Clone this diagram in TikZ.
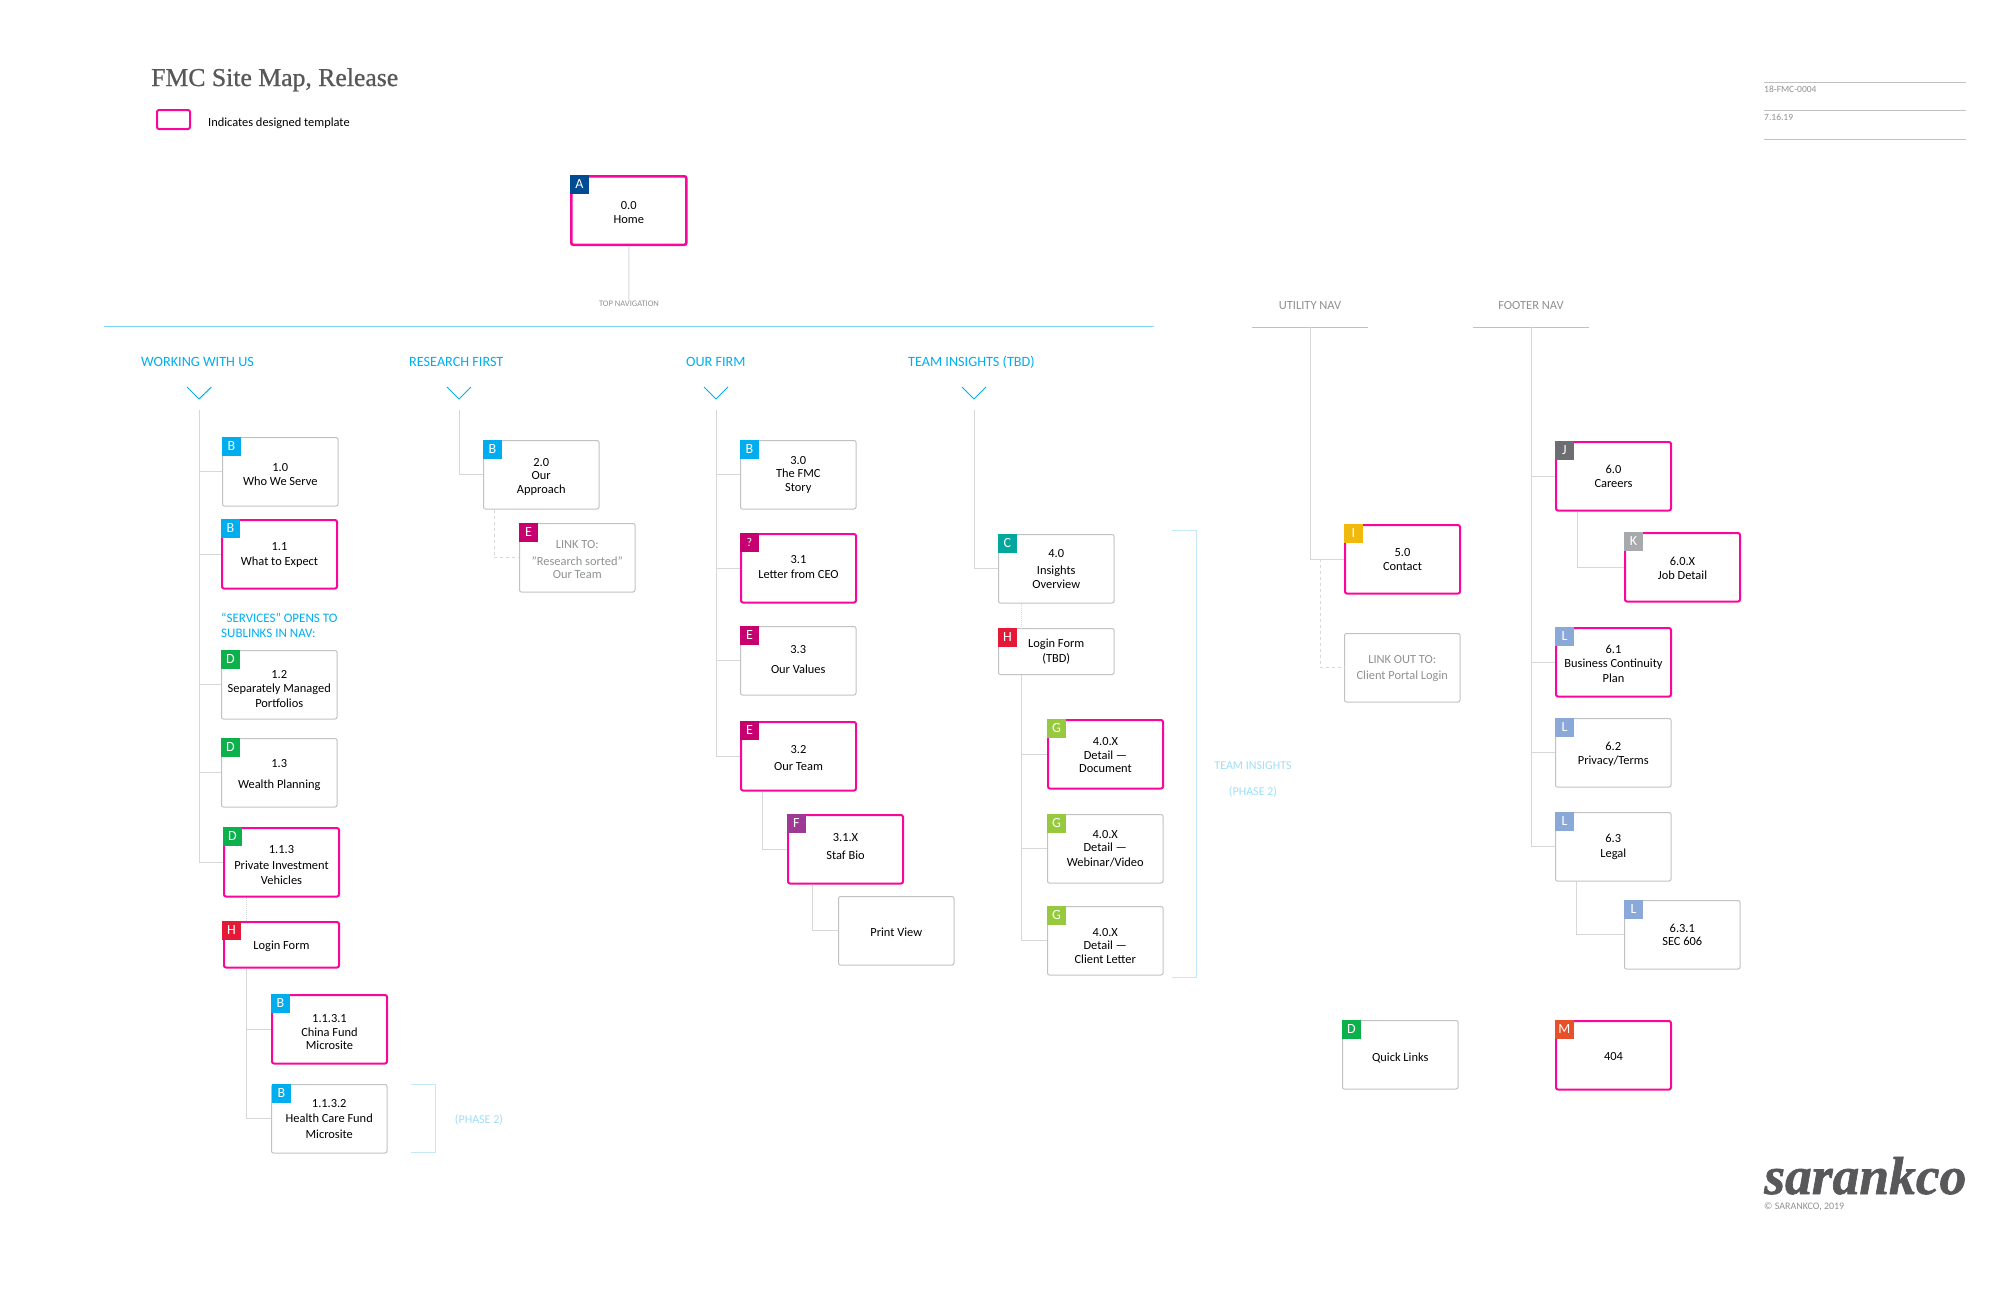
\documentclass[tikz,border=0pt]{standalone}
\usepackage{fontspec}
\setmainfont{Carlito}
\newfontfamily\titlefont[FakeBold=0.8]{Liberation Serif}
\newfontfamily\logofont[FakeBold=1.2]{Liberation Serif}
\usetikzlibrary{positioning}
\newcommand{\dropby}[1]{\rule{0pt}{\dimexpr 8pt+#1pt\relax}}
\newcommand{\liftby}[1]{\rule[-#1pt]{0pt}{0pt}}

\definecolor{cyanhead}{HTML}{00AEEF}
\definecolor{cyanline}{HTML}{7FD6F6}
\definecolor{cyanpale}{HTML}{C4EAFA}
\definecolor{cyantext}{HTML}{9FDDF8}
\definecolor{boxgrey}{HTML}{BFC1C3}
\definecolor{linkgrey}{HTML}{D5D7D8}
\definecolor{textgrey}{HTML}{8E9092}
\definecolor{tplpink}{HTML}{F9079A}
\definecolor{logogrey}{HTML}{58585B}
\definecolor{tagA}{HTML}{004B91}
\definecolor{tagB}{HTML}{00AEEF}
\definecolor{tagC}{HTML}{00A79D}
\definecolor{tagD}{HTML}{0DB14B}
\definecolor{tagE}{HTML}{C6006F}
\definecolor{tagF}{HTML}{9E3A96}
\definecolor{tagG}{HTML}{96C93D}
\definecolor{tagH}{HTML}{E31937}
\definecolor{tagI}{HTML}{F0B90B}
\definecolor{tagJ}{HTML}{6D6E71}
\definecolor{tagK}{HTML}{A7A9AC}
\definecolor{tagL}{HTML}{8AA8D8}
\definecolor{tagM}{HTML}{E8502A}

\tikzset{
  pagebox/.style={draw=boxgrey,line width=1pt,rounded corners=2pt,minimum width=115.5pt,
    minimum height=68.5pt,inner sep=0pt,anchor=north west,align=center,
    font=\fontsize{12.4}{13.6}\selectfont},
  tplbox/.style={pagebox,draw=tplpink,line width=2pt,minimum width=115pt,minimum height=68.5pt},
  linkbox/.style={pagebox,text=textgrey},
  tagbox/.style={anchor=north west,minimum size=18.5pt,inner sep=0pt,text=white,
    font=\fontsize{14}{14}\selectfont},
  navhead/.style={anchor=west,inner sep=0pt,text=cyanhead,font=\fontsize{14.2}{15}\selectfont},
  greyhead/.style={inner sep=0pt,text=textgrey,font=\fontsize{12.5}{13}\selectfont},
  phasetext/.style={inner sep=0pt,text=cyantext,font=\fontsize{12}{13}\selectfont},
  conn/.style={draw=linkgrey,line width=1pt},
  dashconn/.style={conn,dash pattern=on 3pt off 3pt},
  chevron/.style={draw=cyanhead,line width=1pt},
  navline/.style={draw=cyanline,line width=1pt},
  bracket/.style={draw=cyanpale,line width=1pt},
}

\begin{document}
\begin{tikzpicture}[x=1pt,y=-1pt]
  \useasboundingbox (0,0) rectangle (2015,1304);

  % heading
  \node[anchor=base west,inner sep=0pt,text=logogrey,font=\titlefont\fontsize{25.7}{26}\selectfont]
    (title) at (151,86) {FMC Site Map, Release};
  \node[tplbox,minimum width=33pt,minimum height=19pt] (legendbox) at (156,109) {};
  \node[anchor=west,inner sep=0pt,font=\fontsize{12.4}{14}\selectfont] (legendtext) at (208,123)
    {Indicates designed template};

  % job details
  \draw[draw=boxgrey] (1764,82) -- (1966,82);
  \draw[draw=boxgrey] (1764,110) -- (1966,110);
  \draw[draw=boxgrey] (1764,139) -- (1966,139);
  \node[anchor=west,inner sep=0pt,text=textgrey,font=\fontsize{9.5}{10}\selectfont] (jobno) at (1764,89) {18-FMC-0004};
  \node[anchor=west,inner sep=0pt,text=textgrey,font=\fontsize{9.5}{10}\selectfont] (jobdate) at (1764,117) {7.16.19};

  % home
  \node[tplbox,line width=2.6pt] (p00) at (570,175) {\dropby{4}0.0\\Home};
  \node[tagbox,fill=tagA] (t00) at (570,175) {A};
  \node[greyhead,font=\fontsize{8.5}{9}\selectfont] (topnav) at (629,304) {TOP NAVIGATION};
  \draw[conn] (p00) -- (topnav);

  % nav rules
  \draw[navline] (104,326.5) -- (1154,326.5);
  \draw[navline] (1252,327) -- (1368,327);
  \draw[navline] (1473,327) -- (1589,327);
  \node[greyhead] (utilnav) at (1310,305.5) {UTILITY NAV};
  \node[greyhead] (footnav) at (1531,305.5) {FOOTER NAV};

  \node[navhead] (workhead) at (141,362) {WORKING WITH US};
  \node[navhead] (reshead) at (409,362) {RESEARCH FIRST};
  \node[navhead] (firmhead) at (686,362) {OUR FIRM};
  \node[navhead] (teamhead) at (908,362) {TEAM INSIGHTS (TBD)};

  \draw[chevron] (187,387) -- (199,399) -- (211.5,387);
  \draw[chevron] (447,387) -- (459,399) -- (471,387);
  \draw[chevron] (704,387) -- (716,399) -- (728,387);
  \draw[chevron] (962,387) -- (974,399) -- (986,387);

  \coordinate (workroot) at (199,410);
  \coordinate (resroot) at (459,410);
  \coordinate (firmroot) at (716,410);
  \coordinate (teamroot) at (974,410);
  \coordinate (utilroot) at (1310,327);
  \coordinate (footroot) at (1531,327);

  % working with us
  \node[pagebox] (p10) at (222,437) {\dropby{6}1.0\\Who We Serve};
  \node[tagbox,fill=tagB] (t10) at (222,437) {B};
  \node[tplbox] (p11) at (221,519) {\dropby{2}1.1\\[1.5pt]What to Expect};
  \node[tagbox,fill=tagB] (t11) at (221,519) {B};
  \node[anchor=north west,inner sep=0pt,align=left,text=cyanhead,font=\fontsize{13}{15}\selectfont]
    (services) at (221,613) {``SERVICES''  OPENS TO\\SUBLINKS IN NAV:};
  \node[pagebox] (p12) at (221,650) {\dropby{9}1.2\\Separately Managed\\[1.5pt]Portfolios};
  \node[tagbox,fill=tagD] (t12) at (221,650) {D};
  \node[pagebox] (p13) at (221,738) {\dropby{4}1.3\\[7.5pt]Wealth Planning};
  \node[tagbox,fill=tagD] (t13) at (221,738) {D};
  \node[tplbox] (p113) at (223,827) {\dropby{6}1.1.3\\[2pt]Private Investment\\[1.5pt]Vehicles};
  \node[tagbox,fill=tagD] (t113) at (223,827) {D};
  \node[tplbox,minimum height=45.5pt] (plog) at (223,921) {\dropby{4}Login Form};
  \node[tagbox,fill=tagH] (tlog) at (222,921) {H};
  \node[tplbox] (p1131) at (271,994) {\dropby{6}1.1.3.1\\China Fund\\Microsite};
  \node[tagbox,fill=tagB] (t1131) at (271,994) {B};
  \node[pagebox] (p1132) at (271,1084) {1.1.3.2\\[2pt]Health Care Fund\\[2pt]Microsite};
  \node[tagbox,fill=tagB] (t1132) at (272,1084) {B};

  \draw[conn] (workroot) |- (p10.west);
  \draw[conn] (workroot) |- (p11.west);
  \draw[conn] (workroot) |- (p12.west);
  \draw[conn] (workroot) |- (p13.west);
  \draw[conn] (workroot) |- (p113.west);
  \draw[conn,densely dotted] ([xshift=23pt]p113.south west) -- ([xshift=23pt]plog.north west);
  \draw[conn] ([xshift=23pt]plog.south west) |- (p1131.west);
  \draw[conn] ([xshift=23pt]plog.south west) |- (p1132.west);

  \draw[bracket] (411,1084.5) -- (435,1084.5) -- (435,1152.5) -- (411,1152.5);
  \node[phasetext] (phaseone) at (479,1120) {(PHASE 2)};

  % research first
  \node[pagebox] (p20) at (483,440) {\dropby{4}2.0\\Our\\Approach};
  \node[tagbox,fill=tagB] (t20) at (483,440) {B};
  \node[linkbox] (plink) at (519,523) {\dropby{4}LINK TO:\\[3pt]"Research sorted"\\Our Team};
  \node[tagbox,fill=tagE] (tlink) at (519,523) {E};
  \draw[conn] (resroot) |- (p20.west);
  \draw[dashconn] ([xshift=11pt]p20.south west) |- (plink.west);

  % our firm
  \node[pagebox] (p30) at (740,440) {3.0\\The FMC\\Story};
  \node[tagbox,fill=tagB] (t30) at (740,440) {B};
  \node[tplbox] (p31) at (740,533) {3.1\\[1.5pt]Letter from CEO\liftby{3}};
  \node[tagbox,fill=tagE,font=\fontsize{12}{12}\selectfont] (t31) at (740,533) {?};
  \node[pagebox] (p33) at (740,626) {3.3\\[6pt]Our Values\liftby{2}};
  \node[tagbox,fill=tagE] (t33) at (740,626) {E};
  \node[tplbox] (p32) at (740,721) {\dropby{4}3.2\\[3pt]Our Team};
  \node[tagbox,fill=tagE] (t32) at (740,721) {E};
  \node[tplbox] (p31x) at (787,814) {3.1.X\\[4.5pt]Staf Bio\liftby{6}};
  \node[tagbox,fill=tagF] (t31x) at (787,814) {F};
  \node[pagebox] (pprint) at (838,896) {\dropby{4}Print View};

  \draw[conn] (firmroot) |- (p30.west);
  \draw[conn] (firmroot) |- (p31.west);
  \draw[conn] (firmroot) |- (p33.west);
  \draw[conn] (firmroot) |- (p32.west);
  \draw[conn] ([xshift=22pt]p32.south west) |- (p31x.west);
  \draw[conn] ([xshift=25pt]p31x.south west) |- (pprint.west);

  % team insights
  \node[pagebox] (p40) at (998,534) {4.0\\[4pt]Insights\\Overview};
  \node[tagbox,fill=tagC] (t40) at (998,534) {C};
  \node[pagebox,minimum height=46pt] (plogt) at (998,628) {Login Form\\[1.5pt](TBD)};
  \node[tagbox,fill=tagH] (tlogt) at (998,628) {H};
  \node[tplbox] (p40a) at (1047,719) {\dropby{2}4.0.X\\Detail ---\\Document};
  \node[tagbox,fill=tagG] (t40a) at (1047,719) {G};
  \node[pagebox] (p40b) at (1047,814) {4.0.X\\Detail ---\\[1.5pt]Webinar/Video};
  \node[tagbox,fill=tagG] (t40b) at (1047,814) {G};
  \node[pagebox] (p40c) at (1047,906) {\dropby{10}4.0.X\\Detail ---\\Client Letter};
  \node[tagbox,fill=tagG] (t40c) at (1047,906) {G};

  \draw[conn] (teamroot) |- (p40.west);
  \draw[conn,densely dotted] ([xshift=23pt]p40.south west) -- ([xshift=23pt]plogt.north west);
  \draw[conn] ([xshift=23pt]plogt.south west) |- (p40a.west);
  \draw[conn] ([xshift=23pt]plogt.south west) |- (p40b.west);
  \draw[conn] ([xshift=23pt]plogt.south west) |- (p40c.west);

  \draw[bracket] (1172,530.5) -- (1196.5,530.5) -- (1196.5,977) -- (1172,977);
  \node[phasetext] (teamphase) at (1253,766) {TEAM INSIGHTS};
  \node[phasetext] (phasetwo) at (1253,792) {(PHASE 2)};

  % utility nav
  \node[tplbox] (p50) at (1344,524) {\dropby{1}5.0\\Contact};
  \node[tagbox,fill=tagI] (t50) at (1344,524) {I};
  \node[linkbox] (pout) at (1344,633) {\dropby{2}LINK OUT TO:\\[2pt]Client Portal Login};
  \draw[conn] (utilroot) |- (p50.west);
  \draw[dashconn] ([xshift=-24pt]p50.west) |- (pout.west);

  % footer nav
  \node[tplbox] (p60) at (1555,441) {6.0\\Careers};
  \node[tagbox,fill=tagJ] (t60) at (1555,441) {J};
  \node[tplbox] (p60x) at (1624,532) {\dropby{2}6.0.X\\Job Detail};
  \node[tagbox,fill=tagK] (t60x) at (1624,532) {K};
  \node[tplbox] (p61) at (1555,627) {\dropby{4}6.1\\Business Continuity\\[1.5pt]Plan};
  \node[tagbox,fill=tagL] (t61) at (1555,627) {L};
  \node[pagebox] (p62) at (1555,718) {\dropby{4}6.2\\Privacy/Terms};
  \node[tagbox,fill=tagL] (t62) at (1555,718) {L};
  \node[pagebox] (p63) at (1555,812) {6.3\\[1pt]Legal};
  \node[tagbox,fill=tagL] (t63) at (1555,812) {L};
  \node[pagebox] (p631) at (1624,900) {6.3.1\\SEC 606};
  \node[tagbox,fill=tagL] (t631) at (1624,900) {L};

  \draw[conn] (footroot) |- (p60.west);
  \draw[conn] (footroot) |- (p61.west);
  \draw[conn] (footroot) |- (p62.west);
  \draw[conn] (footroot) |- (p63.west);
  \draw[conn] ([xshift=22pt]p60.south west) |- (p60x.west);
  \draw[conn] ([xshift=21pt]p63.south west) |- (p631.west);

  % no parent
  \node[pagebox] (pquick) at (1342,1020) {\dropby{8}Quick Links};
  \node[tagbox,fill=tagD] (tquick) at (1342,1020) {D};
  \node[tplbox] (p404) at (1555,1020) {\dropby{2}404};
  \node[tagbox,fill=tagM] (t404) at (1555,1020) {M};

  % logo
  \node[anchor=base west,inner sep=0pt,text=logogrey,text depth=0pt,font=\logofont\bfseries\itshape\fontsize{53.5}{54}\selectfont]
    (logo) at (1764,1194) {sarankco};
  \node[anchor=west,inner sep=0pt,text=textgrey,font=\fontsize{10}{10}\selectfont]
    (copyright) at (1764,1206.5) {© SARANKCO, 2019};
\end{tikzpicture}
\end{document}
